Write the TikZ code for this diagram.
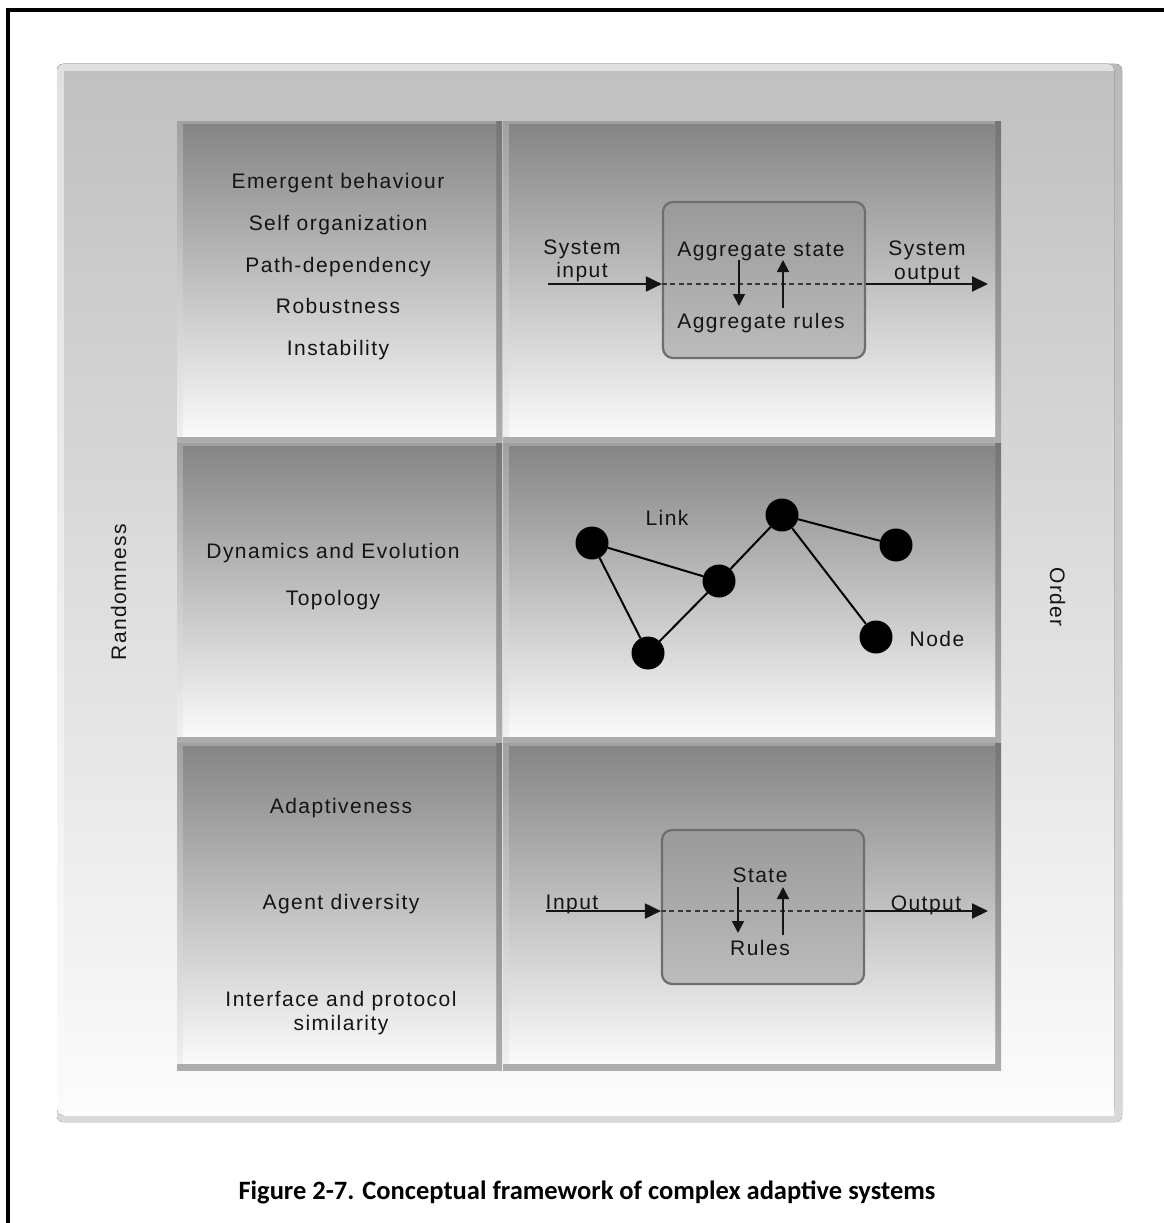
\documentclass[tikz,border=0pt]{standalone}
\usepackage{fontspec}
\setmainfont{Liberation Sans}[LetterSpace=7]
\newfontfamily\captionface{Carlito}
\usetikzlibrary{arrows.meta}

\definecolor{ink}{HTML}{141414}
\definecolor{panelTop}{HTML}{C0C0C0}
\definecolor{panelBot}{HTML}{FCFCFC}
\definecolor{panelHiTop}{HTML}{E0E0E0}
\definecolor{panelHiBot}{HTML}{FBFBFB}
\definecolor{panelEdgeTop}{HTML}{BABABA}
\definecolor{panelEdgeBot}{HTML}{D9D9D9}
\definecolor{cellTop}{HTML}{858585}
\definecolor{cellBot}{HTML}{FAFAFA}
\definecolor{cellHiTop}{HTML}{A0A0A0}
\definecolor{cellHiBot}{HTML}{F0F0F0}
\definecolor{cellEdgeTop}{HTML}{767676}
\definecolor{cellEdgeBot}{HTML}{ADADAD}
\definecolor{boxTop}{HTML}{9A9A9A}
\definecolor{boxBot}{HTML}{BCBCBC}
\definecolor{boxLine}{HTML}{6E6E6E}

% bevelled grey cell: dark right/bottom rim, light left/top rim, shaded face
\newcommand{\bevelcell}[4]{%
  \fill[top color=cellEdgeTop, bottom color=cellEdgeBot] (#1,#2) rectangle (#3,#4);
  \fill[top color=cellHiTop, bottom color=cellHiBot] (#1,#2) rectangle (#3-6,#4-7);
  \fill[top color=cellTop, bottom color=cellBot] (#1+6,#2+3) rectangle (#3-6,#4-7);
}

\begin{document}
\begin{tikzpicture}[x=1pt,y=-1pt,
  txt/.style={font=\fontsize{21}{25}\selectfont, text=ink, inner sep=0pt, anchor=base},
  procbox/.style={draw=boxLine, line width=2.2pt, rounded corners=10pt,
    top color=boxTop, bottom color=boxBot, inner sep=0pt},
  flow/.style={line width=2pt, draw=ink, -{Triangle[length=16pt,width=15pt]}},
  swap/.style={line width=1.8pt, draw=ink, -{Triangle[length=12pt,width=12pt]}},
  dashline/.style={line width=2pt, draw=ink!85, dash pattern=on 5pt off 3.5pt},
  dot/.style={circle, fill=black, minimum size=33pt, inner sep=0pt},
  link/.style={line width=2pt, draw=black}]

\useasboundingbox (0,0) rectangle (1164,1223);
\fill[white] (0,0) rectangle (1164,1223);

% page frame (left and top rules)
\draw[line width=4pt, line join=miter] (8,1240) -- (8,10) -- (1180,10);

% outer panel
\fill[rounded corners=6pt, top color=panelEdgeTop, bottom color=panelEdgeBot] (57,64) rectangle (1122,1122);
\fill[rounded corners=6pt, top color=panelHiTop, bottom color=panelHiBot] (57,64) rectangle (1114,1115);
\fill[top color=panelTop, bottom color=panelBot] (64,72) rectangle (1114,1115);

% grid of cells
\bevelcell{177}{121}{502}{443}
\bevelcell{503}{121}{1001}{443}
\bevelcell{177}{443}{502}{743}
\bevelcell{503}{443}{1001}{743}
\bevelcell{177}{743}{502}{1070}
\bevelcell{503}{743}{1001}{1070}

% side labels
\node[txt, rotate=90] (rnd) at (126,592) {Randomness};
\node[txt, rotate=-90] (ord) at (1050,597) {Order};

% top left: properties
\node[txt] (emb) at (338,188) {Emergent behaviour};
\node[txt] (selforg) at (338,230) {Self organization};
\node[txt] (pathdep) at (338,272) {Path-dependency};
\node[txt] (robust) at (338,313) {Robustness};
\node[txt] (instab) at (338,355) {Instability};

% middle left
\node[txt] (dyn) at (333,558) {Dynamics and Evolution};
\node[txt] (topo) at (333,605) {Topology};

% bottom left
\node[txt] (adapt) at (341,813) {Adaptiveness};
\node[txt] (agdiv) at (341,909) {Agent diversity};
\node[txt] (iface) at (341,1006) {Interface and protocol};
\node[txt] (simil) at (341,1030) {similarity};

% top right: aggregate system
\node[procbox, minimum width=202pt, minimum height=156pt] (abox) at (764,280) {};
\coordinate (sysin) at (548,284);
\coordinate (sysout) at (988,284);
\draw[dashline] (sysin -| abox.west) -- (sysout -| abox.east);
\draw[flow] (sysin) -- (sysin -| abox.west);
\draw[flow] (sysout -| abox.east) -- (sysout);
\node[txt] (sysA) at (582,254) {System};
\node[txt] (inA) at (582,277) {input};
\node[txt] (sysB) at (927,255) {System};
\node[txt] (outB) at (927,279) {output};
\node[txt] (astate) at (761,256) {Aggregate state};
\node[txt] (arules) at (761,328) {Aggregate rules};
\coordinate (ad0) at (739,260);
\coordinate (ad1) at (739,306);
\coordinate (au0) at (783,308);
\coordinate (au1) at (783,260);
\draw[swap] (ad0) -- (ad1);
\draw[swap] (au0) -- (au1);

% middle right: network
\node[dot] (n1) at (592,543) {};
\node[dot] (n2) at (719,581) {};
\node[dot] (n3) at (648,653) {};
\node[dot] (n4) at (782,515) {};
\node[dot] (n5) at (896,545) {};
\node[dot] (n6) at (876,637) {};
\draw[link] (n1) -- (n2);
\draw[link] (n1) -- (n3);
\draw[link] (n3) -- (n2);
\draw[link] (n2) -- (n4);
\draw[link] (n4) -- (n5);
\draw[link] (n4) -- (n6);
\node[txt] (linklbl) at (667,525) {Link};
\node[txt] (nodelbl) at (937,646) {Node};

% bottom right: agent
\node[procbox, minimum width=202pt, minimum height=154pt] (bbox) at (763,907) {};
\coordinate (agin) at (546,911);
\coordinate (agout) at (988,911);
\draw[dashline] (agin -| bbox.west) -- (agout -| bbox.east);
\draw[flow] (agin) -- (agin -| bbox.west);
\draw[flow] (agout -| bbox.east) -- (agout);
\node[txt] (inlbl) at (572,909) {Input};
\node[txt] (outlbl) at (926,910) {Output};
\node[txt] (state) at (760,882) {State};
\node[txt] (rules) at (760,955) {Rules};
\coordinate (bd0) at (738,887);
\coordinate (bd1) at (738,933);
\coordinate (bu0) at (783,935);
\coordinate (bu1) at (783,887);
\draw[swap] (bd0) -- (bd1);
\draw[swap] (bu0) -- (bu1);

% caption
\node[inner sep=0pt, anchor=base, text=black,
  font=\captionface\bfseries\fontsize{26.5}{32}\selectfont] (cap) at (587,1199)
  {Figure 2-7. Conceptual framework of complex adaptive systems};
\end{tikzpicture}
\end{document}
